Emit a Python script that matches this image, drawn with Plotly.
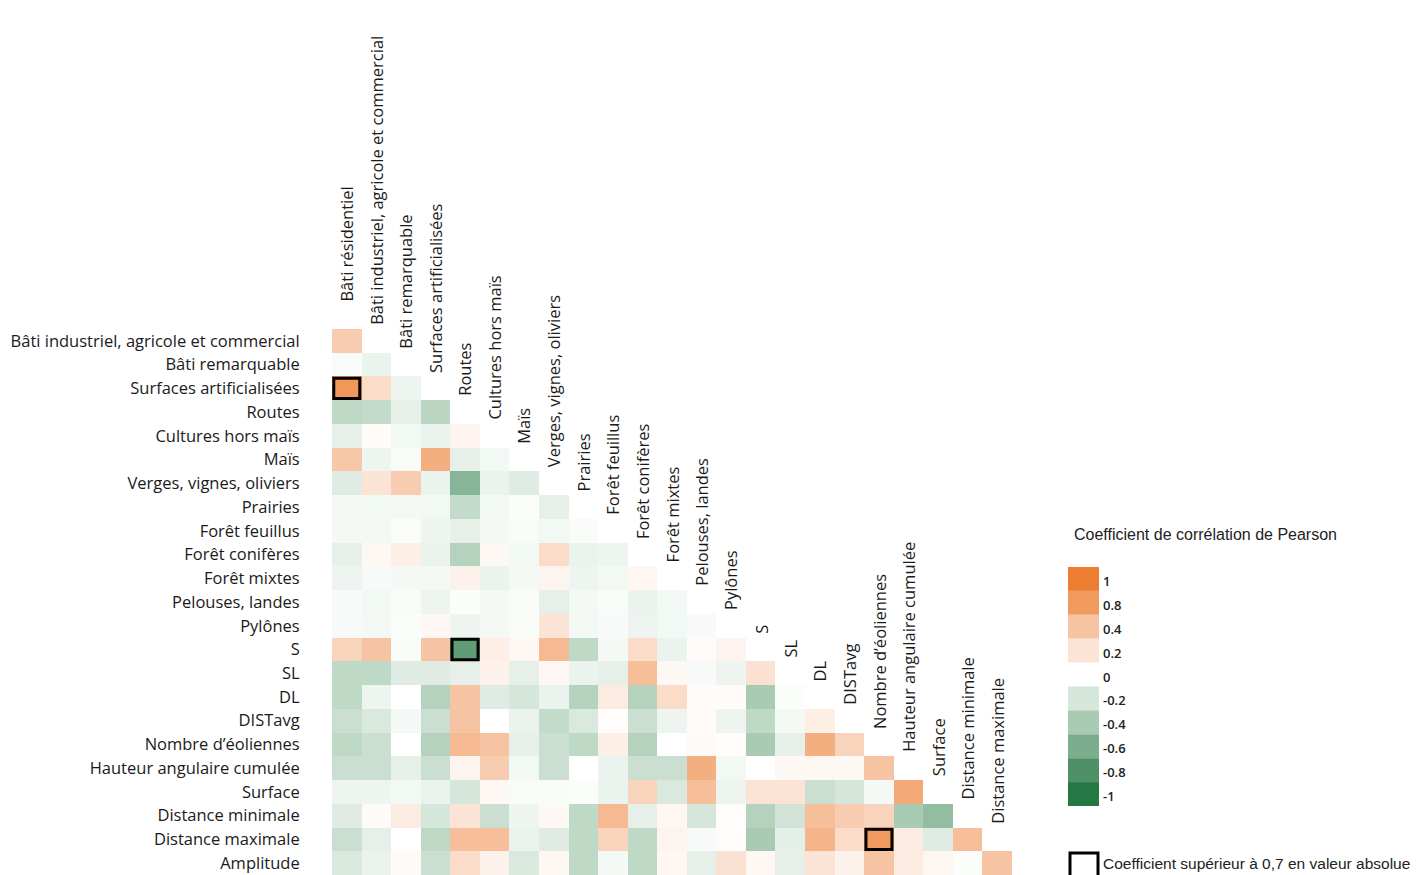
import plotly.graph_objects as go
from plotly.colors import sample_colorscale

# ---------------- data ----------------
col_labels = ["Bâti résidentiel", "Bâti industriel, agricole et commercial", "Bâti remarquable",
              "Surfaces artificialisées", "Routes", "Cultures hors maïs", "Maïs",
              "Verges, vignes, oliviers", "Prairies", "Forêt feuillus", "Forêt conifères",
              "Forêt mixtes", "Pelouses, landes", "Pylônes", "S", "SL", "DL", "DISTavg",
              "Nombre d’éoliennes", "Hauteur angulaire cumulée", "Surface",
              "Distance minimale", "Distance maximale"]
row_labels = ["Bâti industriel, agricole et commercial", "Bâti remarquable",
              "Surfaces artificialisées", "Routes", "Cultures hors maïs", "Maïs",
              "Verges, vignes, oliviers", "Prairies", "Forêt feuillus", "Forêt conifères",
              "Forêt mixtes", "Pelouses, landes", "Pylônes", "S", "SL", "DL", "DISTavg",
              "Nombre d’éoliennes", "Hauteur angulaire cumulée", "Surface",
              "Distance minimale", "Distance maximale", "Amplitude"]

r_bati_ind = [0.35]
r_bati_rem = [-0.03, -0.10]
r_surf_art = [0.82, 0.25, -0.08]
r_routes = [-0.30, -0.28, -0.12, -0.32]
r_cultures = [-0.12, 0.03, -0.06, -0.10, 0.08]
r_mais = [0.38, -0.08, -0.03, 0.60, -0.12, -0.06]
r_verges = [-0.15, 0.20, 0.35, -0.10, -0.55, -0.10, -0.15]
r_prairies = [-0.05, -0.06, -0.05, -0.06, -0.28, -0.06, -0.02, -0.12]
r_feuillus = [-0.05, -0.05, -0.02, -0.08, -0.12, -0.05, -0.03, -0.06, -0.03]
r_coniferes = [-0.12, 0.05, 0.12, -0.10, -0.35, 0.05, -0.06, 0.25, -0.10, -0.08]
r_mixtes = [-0.08, -0.04, -0.05, -0.05, 0.10, -0.10, -0.05, 0.08, -0.08, -0.06, 0.07]
r_pelouses = [-0.04, -0.06, -0.03, -0.08, -0.02, -0.05, -0.03, -0.12, -0.05, -0.03, -0.10, -0.06]
r_pylones = [-0.04, -0.05, -0.02, 0.06, -0.08, -0.05, -0.03, 0.20, -0.06, -0.04, -0.08, -0.06, -0.04]
r_s = [0.30, 0.40, -0.03, 0.40, -0.72, 0.12, 0.05, 0.50, -0.30, -0.05, 0.25, -0.10, 0.03, 0.08]
r_sl = [-0.30, -0.30, -0.15, -0.15, -0.12, 0.10, -0.12, 0.06, -0.10, -0.12, 0.45, 0.05, -0.04, -0.08, 0.22]
r_dl = [-0.30, -0.08, 0.00, -0.35, 0.40, -0.15, -0.20, -0.10, -0.35, 0.15, -0.35, 0.25, 0.03, 0.03, -0.40, -0.02]
r_distavg = [-0.25, -0.18, -0.05, -0.25, 0.40, 0.00, -0.10, -0.28, -0.18, 0.02, -0.25, -0.08, 0.03, -0.08, -0.30, -0.05, 0.12]
r_nombre = [-0.30, -0.25, 0.00, -0.35, 0.50, 0.40, -0.12, -0.25, -0.30, 0.12, -0.35, 0.00, 0.04, 0.02, -0.40, -0.12, 0.60, 0.30]
r_hauteur = [-0.25, -0.25, -0.12, -0.25, 0.08, 0.35, -0.06, -0.25, 0.00, -0.10, -0.25, -0.25, 0.60, -0.06, 0.00, 0.05, 0.05, 0.05, 0.40]
r_surface = [-0.08, -0.08, -0.06, -0.10, -0.20, 0.05, -0.03, -0.03, -0.02, -0.10, 0.30, -0.18, 0.45, -0.08, 0.20, 0.20, -0.25, -0.20, -0.05, 0.65]
r_dmin = [-0.15, 0.04, 0.15, -0.20, 0.20, -0.25, -0.08, 0.05, -0.30, 0.50, -0.12, 0.07, -0.20, 0.02, -0.35, -0.22, 0.45, 0.35, 0.30, -0.40, -0.50]
r_dmax = [-0.25, -0.12, 0.00, -0.30, 0.45, 0.45, -0.10, -0.15, -0.30, 0.30, -0.30, 0.08, -0.04, 0.02, -0.40, -0.13, 0.55, 0.25, 0.80, 0.15, -0.15, 0.45]
r_amplitude = [-0.18, -0.10, 0.04, -0.25, 0.25, 0.10, -0.18, 0.06, -0.30, -0.05, -0.30, 0.06, -0.12, 0.22, 0.06, -0.12, 0.20, 0.10, 0.40, 0.15, 0.07, -0.02, 0.40]

rows = [r_bati_ind, r_bati_rem, r_surf_art, r_routes, r_cultures, r_mais, r_verges, r_prairies,
        r_feuillus, r_coniferes, r_mixtes, r_pelouses, r_pylones, r_s, r_sl, r_dl, r_distavg,
        r_nombre, r_hauteur, r_surface, r_dmin, r_dmax, r_amplitude]

legend_ticks = [1, 0.8, 0.4, 0.2, 0, -0.2, -0.4, -0.6, -0.8, -1]
legend_text = ["1", "0.8", "0.4", "0.2", "0", "-0.2", "-0.4", "-0.6", "-0.8", "-1"]
threshold = 0.7

# ---------------- figure ----------------
OFF = 8  # page body margin
W, H = 1422, 875
L = 332 - OFF
T = 329 - OFF
B = OFF
R = W - (1012 - OFF)
PW, PH = W - L - R, H - T - B

def px_x(px):
    return (px - OFF - L) / PW

def px_y(py):
    return (H - B - (py - OFF)) / PH

n = len(col_labels)
nr = len(row_labels)
row_px = PH / nr
z = [row + [None] * (n - len(row)) for row in rows]

colorscale = [
    [0.0, "#237843"], [0.1, "#4E9166"], [0.2, "#7BAE8D"], [0.3, "#A9CBB4"],
    [0.4, "#D5E6DA"], [0.5, "#FFFFFF"], [0.6, "#FBE4D6"], [0.7, "#F7C4A3"],
    [0.9, "#F19A5E"], [1.0, "#ED7D31"],
]

fig = go.Figure(go.Heatmap(
    z=z, x=list(range(n)), y=list(range(nr)),
    zmin=-1, zmax=1, colorscale=colorscale, showscale=False,
    hoverongaps=False, xgap=0, ygap=0,
))

label_font = dict(family="Open Sans, sans-serif", size=16.5, color="#1a1a1a")

annotations = []
for c, lab in enumerate(col_labels):
    yv = c - 1.5
    extra = 0.0
    if yv < -0.5:  # keep anchor inside the axis range, shift in pixels instead
        extra = (-0.5 - yv) * row_px
        yv = -0.5
    annotations.append(dict(
        x=c, y=yv, xref="x", yref="y", text=lab, showarrow=False,
        textangle=-90, xanchor="center", yanchor="bottom", yshift=2 + extra, font=label_font,
    ))

shapes = []
for r, row in enumerate(rows):
    for c, v in enumerate(row):
        if abs(v) > threshold:
            shapes.append(dict(type="rect", xref="x", yref="y",
                               x0=c - 0.5 + 0.06, x1=c + 0.5 - 0.06,
                               y0=r - 0.5 + 0.07, y1=r + 0.5 - 0.07,
                               line=dict(color="black", width=3)))

# colour legend
annotations.append(dict(x=px_x(1072), y=px_y(534), xref="paper", yref="paper",
                        text="Coefficient de corrélation de Pearson", showarrow=False,
                        xanchor="left", yanchor="middle",
                        font=dict(family="Liberation Sans, Arial", size=16, color="#222222")))
leg_cols = sample_colorscale(colorscale, [(t + 1) / 2 for t in legend_ticks])
box_top, box_h = 567, 23.9
for i, (t, txt) in enumerate(zip(legend_ticks, legend_text)):
    y0 = box_top + i * box_h
    shapes.append(dict(type="rect", xref="paper", yref="paper",
                       x0=px_x(1068), x1=px_x(1099), y0=px_y(y0 + box_h), y1=px_y(y0),
                       fillcolor=leg_cols[i], line=dict(width=0)))
    annotations.append(dict(x=px_x(1101), y=px_y(y0 + box_h / 2 + 2), xref="paper", yref="paper",
                            text=txt, showarrow=False, xanchor="left", yanchor="middle",
                            font=dict(family="Open Sans, sans-serif", size=13, color="#222222",
                                      weight=600)))

# threshold legend
shapes.append(dict(type="rect", xref="paper", yref="paper",
                   x0=px_x(1070), x1=px_x(1098), y0=px_y(877), y1=px_y(853),
                   line=dict(color="black", width=3)))
annotations.append(dict(x=px_x(1101), y=px_y(863), xref="paper", yref="paper",
                        text="Coefficient supérieur à 0,7 en valeur absolue", showarrow=False,
                        xanchor="left", yanchor="middle",
                        font=dict(family="Liberation Sans, Arial", size=15.5, color="#222222")))

fig.update_layout(
    width=W, height=H, margin=dict(l=L, r=R, t=T, b=B, pad=0, autoexpand=False),
    plot_bgcolor="white", paper_bgcolor="white",
    xaxis=dict(visible=False, range=[-0.5, n - 0.5], fixedrange=True, automargin=False),
    yaxis=dict(range=[nr - 0.5, -0.5], tickvals=list(range(nr)),
               ticktext=row_labels, showgrid=False, zeroline=False, showline=False,
               ticks="outside", ticklen=28, tickcolor="rgba(0,0,0,0)", tickfont=label_font,
               fixedrange=True, automargin=False),
    annotations=annotations, shapes=shapes, showlegend=False,
)

fig.write_html("out.html")
